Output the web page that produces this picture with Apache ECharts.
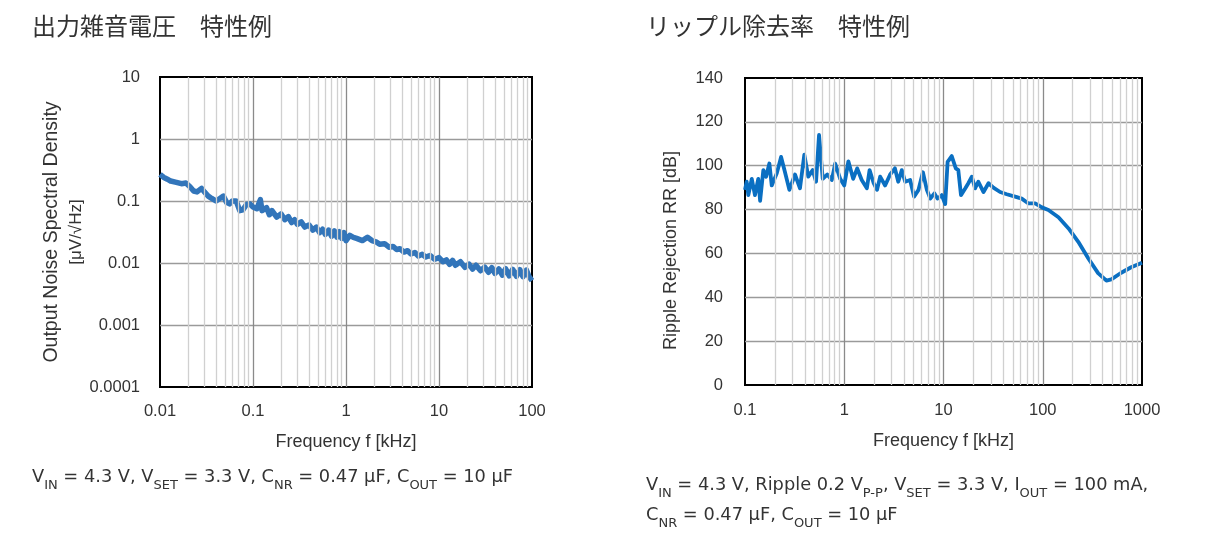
<!DOCTYPE html>
<html>
<head>
<meta charset="utf-8">
<script src="https://cdn.jsdelivr.net/npm/echarts@6/dist/echarts.min.js"></script>
<style>
html,body{margin:0;padding:0;background:#fff;}
#c{width:1211px;height:538px;}
</style>
</head>
<body>
<div id="c"></div>
<script>
// ---- Data: Output noise spectral density ----
const noiseFreq = [0.010,0.011,0.012,0.013,0.015,0.017,0.019,0.021,0.023,0.025,0.028,0.030,0.033,0.036,0.040,0.044,0.048,0.052,0.056,0.060,0.066,0.072,0.078,0.085,0.092,0.100,0.110,0.120,0.125,0.130,0.140,0.150,0.160,0.180,0.200,0.220,0.240,0.260,0.280,0.300,0.330,0.360,0.400,0.440,0.480,0.520,0.560,0.600,0.650,0.700,0.750,0.800,0.850,0.900,0.950,1.00,1.10,1.20,1.30,1.50,1.70,1.90,2.10,2.30,2.60,2.90,3.20,3.50,3.80,4.20,4.60,5.00,5.50,6.00,6.60,7.20,8.00,9.00,10.0,11.0,12.0,13.0,14.0,15.0,17.0,19.0,21.0,23.0,25.0,28.0,31.0,34.0,37.0,40.0,44.0,48.0,52.0,57.0,62.0,68.0,74.0,80.0,87.0,93.0,100];
const noiseValue = [0.27,0.24,0.225,0.21,0.20,0.19,0.195,0.17,0.145,0.14,0.16,0.14,0.12,0.11,0.10,0.11,0.12,0.095,0.09,0.10,0.10,0.07,0.072,0.088,0.09,0.08,0.075,0.105,0.07,0.065,0.078,0.06,0.07,0.055,0.062,0.05,0.056,0.045,0.05,0.042,0.046,0.038,0.041,0.034,0.038,0.031,0.035,0.029,0.034,0.027,0.033,0.026,0.032,0.025,0.031,0.023,0.028,0.026,0.025,0.023,0.026,0.023,0.022,0.020,0.0205,0.018,0.0185,0.0165,0.017,0.015,0.0158,0.014,0.0148,0.013,0.0138,0.0125,0.0132,0.0115,0.0122,0.0105,0.0112,0.0095,0.011,0.0092,0.0105,0.0085,0.0096,0.008,0.0092,0.0075,0.0086,0.0071,0.0084,0.0068,0.008,0.0064,0.0081,0.0062,0.0079,0.0061,0.0078,0.006,0.0077,0.006,0.0052];

// ---- Data: Ripple rejection ----
const rrFreq = [0.100,0.104,0.108,0.117,0.126,0.136,0.142,0.153,0.163,0.176,0.186,0.209,0.231,0.253,0.280,0.319,0.358,0.396,0.434,0.481,0.520,0.557,0.607,0.676,0.750,0.810,0.910,1.00,1.10,1.23,1.35,1.50,1.69,1.80,1.98,2.14,2.30,2.58,2.90,3.24,3.50,3.80,4.11,4.61,5.05,5.60,6.20,6.80,7.36,8.10,8.70,9.60,10.4,11.0,12.1,13.3,14.1,15.0,16.6,17.8,19.3,20.8,22.4,25.3,28.4,31.8,37.2,43.4,52.6,61.4,71.8,83.9,98.0,114,144,182,228,287,361,438,491,618,778,1000];
const rrValue = [89,92.7,86.6,94,86.6,94,84,98,95,101,91,96.5,104,97,89,96,89.7,105,95,98,92.7,114,94,96,93.5,101,94,91,102,94,98.8,93.5,89.7,98,92,89,95,91,96,98.8,92.7,98,92.7,93.5,85.9,89,97,89,85,87.4,85,86.6,82.5,101.8,104.4,98.8,98,86.6,89.7,92,95,89.7,92.7,88,92,90,88,87,85.9,85,82.8,82.8,81,79.8,76.5,71.4,65.3,57.8,51,47.6,48.2,51.2,53.7,55.8];

// ---- Tick / axis labels ----
const minorMultipliers = [2,3,4,5,6,7,8,9];
const noiseDecades = [0.01,0.1,1,10];
const rrDecades = [0.1,1,10,100];

const noisePairs = noiseFreq.map((f,i)=>[f,noiseValue[i]]);
const rrPairs = rrFreq.map((f,i)=>[f,rrValue[i]]);
function minorLines(decades){
  const out=[];
  decades.forEach(d=>minorMultipliers.forEach(m=>out.push({xAxis:+(d*m).toPrecision(6)})));
  return out;
}
const fmt = v => String(Number(Number(v).toPrecision(6)));

const labelFont = 'Liberation Sans, Arial, sans-serif';
const jpFont = '"Noto Sans CJK JP", sans-serif';
const capFont = '"DejaVu Sans", sans-serif';
const capRich = {
  b:{fontSize:17.8,lineHeight:30,verticalAlign:'middle',color:'#333',fontFamily:capFont,fontWeight:'normal'},
  s:{fontSize:13,lineHeight:14,verticalAlign:'bottom',color:'#333',fontFamily:capFont,fontWeight:'normal'}
};

const chart = echarts.init(document.getElementById('c'), null, {renderer:'canvas'});
chart.setOption({
  backgroundColor:'#fff',
  animation:false,
  title:[
    {text:'出力雑音電圧　特性例', left:32, top:14, padding:0,
     textStyle:{fontSize:24, fontWeight:'normal', color:'#333', fontFamily:jpFont}},
    {text:'リップル除去率　特性例', left:646, top:14, padding:0,
     textStyle:{fontSize:24, fontWeight:'normal', color:'#333', fontFamily:jpFont}},
    {text:'{b|V}{s|IN}{b| = 4.3 V, V}{s|SET}{b| = 3.3 V, C}{s|NR}{b| = 0.47 μF, C}{s|OUT}{b| = 10 μF}',
     left:32, top:462, padding:0, textStyle:{fontWeight:'normal', rich:capRich}},
    {text:'{b|V}{s|IN}{b| = 4.3 V, Ripple 0.2 V}{s|P-P}{b|, V}{s|SET}{b| = 3.3 V, I}{s|OUT}{b| = 100 mA,}\n{b|C}{s|NR}{b| = 0.47 μF, C}{s|OUT}{b| = 10 μF}',
     left:646, top:470, padding:0, textStyle:{fontWeight:'normal', rich:capRich}}
  ],
  grid:[
    {left:160, top:77, width:372, height:310, show:true, borderColor:'#000', borderWidth:2, backgroundColor:'#fff'},
    {left:745, top:78, width:397, height:307, show:true, borderColor:'#000', borderWidth:2, backgroundColor:'#fff'}
  ],
  xAxis:[
    {type:'log', gridIndex:0, logBase:10, min:0.01, max:100,
     axisLine:{show:false}, axisTick:{show:false},
     axisLabel:{fontSize:16.5, color:'#333', margin:16, fontFamily:labelFont, formatter:fmt, showMinLabel:true, showMaxLabel:true},
     splitLine:{show:true, showMinLine:false, showMaxLine:false, lineStyle:{color:'#8a8a8a', width:1.3}},
     name:'Frequency f [kHz]', nameLocation:'middle', nameGap:46,
     nameTextStyle:{fontSize:18, color:'#333', fontFamily:labelFont}},
    {type:'log', gridIndex:1, logBase:10, min:0.1, max:1000,
     axisLine:{show:false}, axisTick:{show:false},
     axisLabel:{fontSize:16.5, color:'#333', margin:17, fontFamily:labelFont, formatter:fmt, showMinLabel:true, showMaxLabel:true},
     splitLine:{show:true, showMinLine:false, showMaxLine:false, lineStyle:{color:'#8a8a8a', width:1.3}},
     name:'Frequency f [kHz]', nameLocation:'middle', nameGap:47,
     nameTextStyle:{fontSize:18, color:'#333', fontFamily:labelFont}}
  ],
  yAxis:[
    {type:'log', gridIndex:0, logBase:10, min:0.0001, max:10,
     axisLine:{show:false}, axisTick:{show:false},
     axisLabel:{fontSize:16.5, color:'#333', margin:20, fontFamily:labelFont, formatter:fmt, showMinLabel:true, showMaxLabel:true},
     splitLine:{show:true, showMinLine:false, showMaxLine:false, lineStyle:{color:'#9a9a9a', width:1.3}},
     name:'{a|Output Noise Spectral Density}\n{b|[μV/√Hz]}', nameLocation:'middle', nameGap:72,
     nameTextStyle:{rich:{
       a:{fontSize:19.5, color:'#333', fontFamily:labelFont, lineHeight:24},
       b:{fontSize:17, color:'#333', fontFamily:labelFont, lineHeight:24}
     }}},
    {type:'value', gridIndex:1, min:0, max:140, interval:20,
     axisLine:{show:false}, axisTick:{show:false},
     axisLabel:{fontSize:16.5, color:'#333', margin:22, fontFamily:labelFont, showMinLabel:true, showMaxLabel:true},
     splitLine:{show:true, showMinLine:false, showMaxLine:false, lineStyle:{color:'#9a9a9a', width:1.3}},
     name:'{a|Ripple Rejection RR [dB]}', nameLocation:'middle', nameGap:65,
     nameTextStyle:{rich:{
       a:{fontSize:18, color:'#333', fontFamily:labelFont, padding:[0,38,0,0]}
     }}}
  ],
  series:[
    {type:'line', xAxisIndex:0, yAxisIndex:0, data:[], z:1, silent:true,
     markLine:{silent:true, symbol:'none', label:{show:false}, animation:false,
       lineStyle:{color:'#d0d0d0', width:1.3, type:'solid'}, data:minorLines(noiseDecades)}},
    {type:'line', xAxisIndex:1, yAxisIndex:1, data:[], z:1, silent:true,
     markLine:{silent:true, symbol:'none', label:{show:false}, animation:false,
       lineStyle:{color:'#d0d0d0', width:1.3, type:'solid'}, data:minorLines(rrDecades)}},
    {name:'Noise', type:'line', xAxisIndex:0, yAxisIndex:0, data:noisePairs, z:3,
     showSymbol:false, symbol:'none', lineStyle:{color:'#3275ba', width:5.5, join:'round'}},
    {name:'Ripple Rejection', type:'line', xAxisIndex:1, yAxisIndex:1, data:rrPairs, z:3,
     showSymbol:false, symbol:'none', lineStyle:{color:'#0a6fc2', width:3.8, join:'round'}}
  ]
});
</script>
</body>
</html>
